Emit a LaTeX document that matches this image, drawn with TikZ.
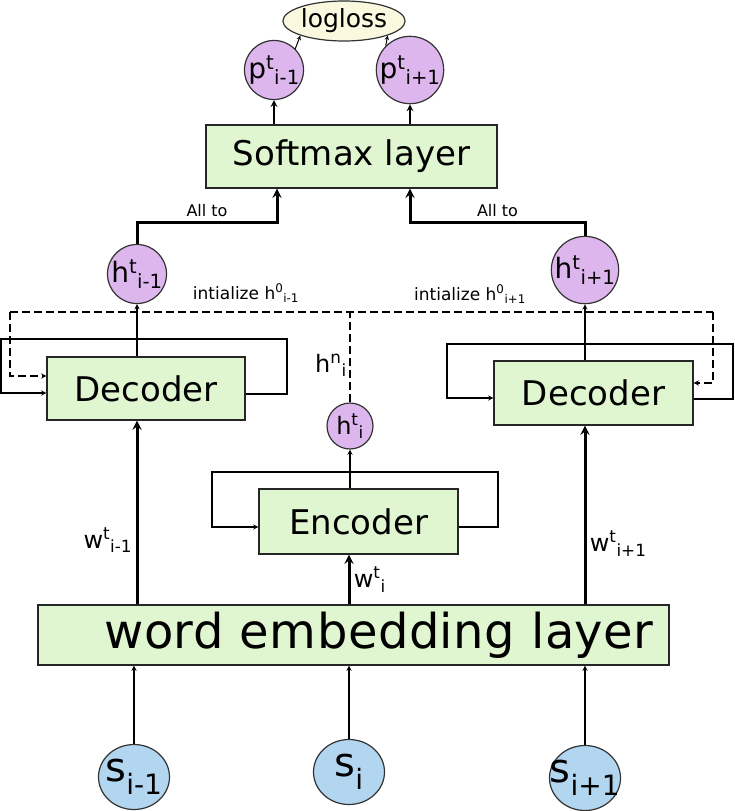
\documentclass[tikz,border=0pt]{standalone}
\usepackage{fontspec}
\setmainfont{DejaVu Sans}
\newfontfamily\widefont[LetterSpace=1]{DejaVu Sans}
\usetikzlibrary{positioning}
\usetikzlibrary{shapes,arrows}
\definecolor{layergreen}{RGB}{224,246,208}
\definecolor{statepurple}{RGB}{221,182,238}
\definecolor{wordblue}{RGB}{179,214,240}
\definecolor{losscream}{RGB}{250,248,222}
\newcommand{\supsub}[2]{\textsuperscript{#1}\textsubscript{#2}}
\newcommand{\sword}[1]{\makebox[30pt]{s\textsubscript{#1}}}
\tikzstyle{layer} = [rectangle, draw=black!85, fill=layergreen, line width=1.3pt,
    inner sep=0pt, font=\fontsize{34}{40}\selectfont]
\tikzstyle{state} = [circle, draw=black!80, fill=statepurple, line width=1.2pt,
    inner sep=0pt, minimum size=55pt, font=\fontsize{28}{30}\selectfont]
\tikzstyle{word} = [ellipse, draw=black!80, fill=wordblue, line width=1.2pt,
    inner sep=0pt, minimum width=71pt, minimum height=65pt, font=\fontsize{40}{42}\selectfont]
\tikzstyle{loss} = [ellipse, draw=black!80, fill=losscream, line width=1.2pt,
    inner sep=0pt, minimum width=100pt, minimum height=40pt, font=\fontsize{25}{28}\selectfont]
\tikzstyle{note} = [font=\fontsize{17}{20}\selectfont]
\tikzstyle{arrow} = [line width=1.3pt,->,>=stealth]
\tikzstyle{bigarrow} = [line width=3pt,->,>=stealth]
\tikzstyle{dashline} = [line width=1.3pt, dash pattern=on 8pt off 4pt]
\tikzstyle{dasharrow} = [dashline,->,>=stealth]

\begin{document}
\begin{tikzpicture}[x=1pt, y=-1pt]
\useasboundingbox (0,0) rectangle (734,811);

\node (loss) [loss] at (344,21) {logloss};
\node (pl) [state] at (274,70) {p\supsub{t}{i-1}};
\node (pr) [state] at (410,70) {p\supsub{t}{i+1}};
\node (soft) [layer, minimum width=291pt, minimum height=63pt] at (351.5,156.5) {Softmax layer};
\node (hl) [state] at (137,274) {h\supsub{t}{i-1}};
\node (hr) [state, minimum size=56pt] at (585,270) {h\supsub{t}{i+1}};
\node (decl) [layer, minimum width=198pt, minimum height=63pt] at (146,388.5) {Decoder};
\node (decr) [layer, minimum width=199pt, minimum height=64pt] at (593.5,393) {Decoder};
\node (hc) [state, minimum size=46pt, font=\fontsize{24}{26}\selectfont] at (350,426) {h\supsub{t}{i}};
\node (enc) [layer, minimum width=199pt, minimum height=65pt] at (358.5,521.5) {Encoder};
\node (emb) [layer, text width=600pt, align=right, inner xsep=15.5pt, minimum height=60pt,
    font=\widefont\fontsize{48}{50}\selectfont] at (353.5,635) {word embedding layer};
\node (sl) [word] at (134,777) {\sword{i-1}};
\node (sc) [word] at (349,772) {\sword{i}};
\node (sr) [word] at (585,778) {\sword{i+1}};

\node (initl) [note] at (246,293) {intialize h\supsub{0}{i-1}};
\node (initr) [note] at (470,294) {intialize h\supsub{0}{i+1}};
\node (hn) [note, font=\fontsize{24}{26}\selectfont] at (331,365) {h\supsub{n}{i}};

\coordinate (al) at (277,222);
\coordinate (ar) at (410,222);
\coordinate (dl) at (10,312);
\coordinate (dr) at (713,312);

% inputs
\draw [arrow] (sl) -- (sl |- emb.south);
\draw [arrow] (sc) -- (sc |- emb.south);
\draw [arrow] (sr) -- (sr |- emb.south);
\draw [bigarrow] (emb.north -| hl) -- node[pos=0.35, left, font=\fontsize{24}{26}\selectfont] {w\supsub{t}{i-1}} (decl.south -| hl);
\draw [bigarrow] (emb.north -| sc) -- node[right, font=\fontsize{24}{26}\selectfont] {w\supsub{t}{i}} (enc.south -| sc);
\draw [bigarrow] (emb.north -| hr) -- node[pos=0.34, right, font=\fontsize{24}{26}\selectfont] {w\supsub{t}{i+1}} (decr.south -| hr);

% recurrent loops
\draw [arrow] ([yshift=-5.5pt]enc.east) -| (498,472) -| (212,527) -- ([yshift=-5.5pt]enc.west);
\draw [arrow] ([yshift=-5.5pt]decl.east) -| (287,339) -| (1,393) -- ([yshift=-4.5pt]decl.west);
\draw [arrow] ([yshift=-6pt]decr.east) -| (733,344) -| (447,398) -- ([yshift=-5pt]decr.west);

% hidden states
\draw [arrow] (enc.north -| hc) -- (hc);
\draw [arrow] (decl.north -| hl) -- (hl);
\draw [arrow] (decr.north -| hr) -- (hr);
\draw [dashline] (hc.north) -- (hc.north |- dl);
\draw [dashline] (dl) -- (dr);
\draw [dasharrow] (dl) |- ([yshift=12.5pt]decl.west);
\draw [dasharrow] (dr) |- ([yshift=10pt]decr.east);

% softmax
\draw [bigarrow] (hl.north) -- (hl.north |- al) -- node[above, font=\fontsize{16}{18}\selectfont] {All to} (al) -- (al |- soft.south);
\draw [bigarrow] (hr.north) -- (hr.north |- ar) -- node[above, font=\fontsize{16}{18}\selectfont] {All to} (ar) -- (ar |- soft.south);
\draw [bigarrow, line width=2pt] (soft.north -| pl) -- (pl);
\draw [bigarrow, line width=2pt] (soft.north -| pr) -- (pr);
\draw [arrow, line width=1pt] (pl.north east) -- (loss.south west);
\draw [arrow, line width=1pt] (pr.north west) -- (loss.south east);

\end{tikzpicture}
\end{document}
